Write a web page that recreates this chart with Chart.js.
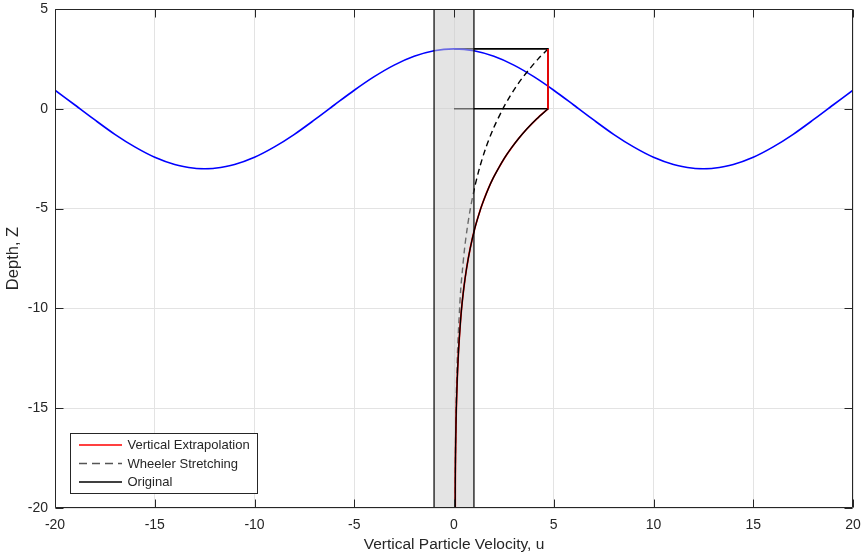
<!DOCTYPE html>
<html><head><meta charset="utf-8">
<script src="https://cdn.jsdelivr.net/npm/chart.js@4.4.0/dist/chart.umd.min.js"></script>
<style>html,body{margin:0;padding:0;background:#fff;overflow:hidden}</style>
</head><body>
<canvas id="c" width="862" height="556"></canvas>
<script>
// ---- data ----
const xTicks = [-20, -15, -10, -5, 0, 5, 10, 15, 20];
const yTicks = [-20, -15, -10, -5, 0, 5];

// wave surface elevation eta(x)
const waveX   = [-20,-19,-18,-17,-16,-15,-14,-13,-12.5,-12,-11,-10,-9,-8,-7,-6,-5,-4,-3,-2,-1,0,1,2,3,4,5,6,7,8,9,10,11,12,12.5,13,14,15,16,17,18,19,20];
const waveEta = [0.93,0.19,-0.56,-1.28,-1.91,-2.43,-2.79,-2.98,-3.00,-2.98,-2.79,-2.43,-1.91,-1.28,-0.56,0.19,0.93,1.61,2.19,2.63,2.91,3.00,2.91,2.63,2.19,1.61,0.93,0.19,-0.56,-1.28,-1.91,-2.43,-2.79,-2.98,-3.00,-2.98,-2.79,-2.43,-1.91,-1.28,-0.56,0.19,0.93];

// original velocity profile u(z)
const origZ = [0,-0.5,-1,-1.5,-2,-2.5,-3,-3.5,-4,-4.5,-5,-6,-7,-8,-9,-10,-11,-12,-13,-14,-15,-16,-17,-18,-19,-20];
const origU = [4.71,4.15,3.66,3.23,2.85,2.51,2.22,1.95,1.72,1.52,1.34,1.04,0.81,0.63,0.49,0.38,0.30,0.235,0.185,0.147,0.117,0.096,0.080,0.070,0.064,0.062];

// Wheeler stretching profile u(z)
const wheelZ = [3,2.5,2,1.5,1,0.5,0,-1,-2,-3,-4,-5,-6,-7,-8,-9,-10,-12,-14,-16,-18,-20];
const wheelU = [4.71,4.22,3.79,3.39,3.04,2.73,2.45,1.97,1.58,1.27,1.02,0.82,0.66,0.53,0.43,0.34,0.28,0.183,0.123,0.087,0.068,0.062];

// vertical extrapolation above the still water level
const extrapZ = [3, 0];
const extrapU = [4.71, 4.71];

// guide lines at crest and still water level
const guideU = [0, 4.71, 4.71, 0];
const guideZ = [3, 3, 0, 0];

// shaded member band
const bandU = [-1, 1];
const bandTop = 5, bandBottom = -20;

const seriesNames = ['Vertical Extrapolation', 'Wheeler Stretching', 'Original'];

// ---- build ----
const pts = (xs, ys) => xs.map((v, i) => ({x: v, y: ys[i]}));
const origPts = pts(origU, origZ);
const extrapPts = pts(extrapU, extrapZ).concat(origPts);
const bandOutline = [
  {x: bandU[0], y: bandBottom}, {x: bandU[0], y: bandTop},
  {x: bandU[1], y: bandTop}, {x: bandU[1], y: bandBottom}, {x: bandU[0], y: bandBottom}
];
const bandFill = [{x: bandU[0], y: bandTop}, {x: bandU[1], y: bandTop}];

const FONT = 'Liberation Sans, Arial, Helvetica, sans-serif';
const TXT = '#262626';

const frame = {
  id: 'frame',
  afterDraw(chart) {
    const {ctx, chartArea: a, scales: {x, y}} = chart;
    ctx.save();
    ctx.strokeStyle = TXT; ctx.lineWidth = 1;
    const L = Math.round(a.left) + 0.5, R = Math.round(a.right) - 0.5;
    const T = Math.round(a.top) + 0.5, B = Math.round(a.bottom) - 0.5;
    ctx.beginPath();
    ctx.rect(L, T, R - L, B - T);
    const tl = 8;
    xTicks.forEach(v => {
      const p = Math.round(x.getPixelForValue(v)) + 0.5;
      ctx.moveTo(p, B); ctx.lineTo(p, B - tl);
      ctx.moveTo(p, T); ctx.lineTo(p, T + tl);
    });
    yTicks.forEach(v => {
      const p = Math.round(y.getPixelForValue(v)) + 0.5;
      ctx.moveTo(L, p); ctx.lineTo(L + tl, p);
      ctx.moveTo(R, p); ctx.lineTo(R - tl, p);
    });
    ctx.stroke();

    // legend box
    const bx = 70.5, by = 433.5, bw = 187, bh = 60;
    ctx.fillStyle = '#fff';
    ctx.fillRect(bx, by, bw, bh);
    ctx.strokeStyle = TXT;
    ctx.lineWidth = 1;
    ctx.strokeRect(bx, by, bw, bh);
    const rows = [
      {y: 445, color: 'rgb(255,0,0)', w: 1.5, dash: []},
      {y: 463.5, color: 'rgb(85,85,85)', w: 1.5, dash: [8, 5]},
      {y: 482, color: 'rgb(0,0,0)', w: 1.5, dash: []}
    ];
    ctx.font = '13px ' + FONT;
    ctx.textBaseline = 'middle';
    ctx.textAlign = 'left';
    rows.forEach((r, i) => {
      ctx.save();
      ctx.beginPath();
      ctx.setLineDash(r.dash);
      ctx.strokeStyle = r.color;
      ctx.lineWidth = r.w;
      ctx.moveTo(79, r.y); ctx.lineTo(122, r.y);
      ctx.stroke();
      ctx.restore();
      ctx.fillStyle = TXT;
      ctx.fillText(seriesNames[i], 127.5, Math.round(r.y) + 0.5);
    });
    ctx.restore();
  }
};

const common = {pointRadius: 0, pointHoverRadius: 0, fill: false};

new Chart(document.getElementById('c'), {
  type: 'line',
  data: {
    datasets: [
      Object.assign({data: bandOutline, borderColor: '#000', borderWidth: 1.2, tension: 0}, common),
      Object.assign({label: seriesNames[2], data: origPts, borderColor: '#000', borderWidth: 1.3, tension: 0.3}, common),
      Object.assign({label: seriesNames[0], data: extrapPts, borderColor: '#ff0000', borderWidth: 1.7, tension: 0.3}, common),
      {data: bandFill, borderWidth: 0, borderColor: 'rgba(0,0,0,0)', pointRadius: 0,
       backgroundColor: 'rgba(204,204,204,0.52)', fill: {target: {value: bandBottom}}},
      Object.assign({label: seriesNames[1], data: pts(wheelU, wheelZ), borderColor: '#000', borderWidth: 1.4, borderDash: [6, 4], tension: 0.3}, common),
      Object.assign({data: pts(waveX, waveEta), borderColor: '#0000ff', borderWidth: 1.6, tension: 0.3}, common),
      Object.assign({data: pts(guideU, guideZ), borderColor: '#000', borderWidth: 1.6, tension: 0}, common)
    ]
  },
  options: {
    responsive: false,
    animation: false,
    devicePixelRatio: 1,
    layout: {padding: {top: 9, right: 9, left: 0, bottom: 0}},
    plugins: {legend: {display: false}, tooltip: {enabled: false}},
    scales: {
      x: {
        type: 'linear', min: -20, max: 20,
        afterBuildTicks: s => { s.ticks = xTicks.map(v => ({value: v})); },
        afterFit: s => { s.height = 48; s.paddingLeft = 0; s.paddingRight = 0; },
        grid: {color: '#e3e3e3', drawTicks: false},
        border: {display: false},
        ticks: {padding: 9, color: TXT, font: {family: FONT, size: 14}},
        title: {display: true, text: 'Vertical Particle Velocity, u', color: TXT,
                font: {family: FONT, size: 15.5}, padding: {top: 0, bottom: 2}}
      },
      y: {
        type: 'linear', min: -20, max: 5,
        afterBuildTicks: s => { s.ticks = yTicks.map(v => ({value: v})); },
        afterFit: s => { s.width = 55; s.paddingTop = 0; s.paddingBottom = 0; },
        grid: {color: '#e3e3e3', drawTicks: false},
        border: {display: false},
        ticks: {padding: 7, color: TXT, font: {family: FONT, size: 14}},
        title: {display: true, text: 'Depth, Z', color: TXT,
                font: {family: FONT, size: 16.5}, padding: {top: 4, bottom: 0}}
      }
    }
  },
  plugins: [frame]
});
</script>
</body></html>
